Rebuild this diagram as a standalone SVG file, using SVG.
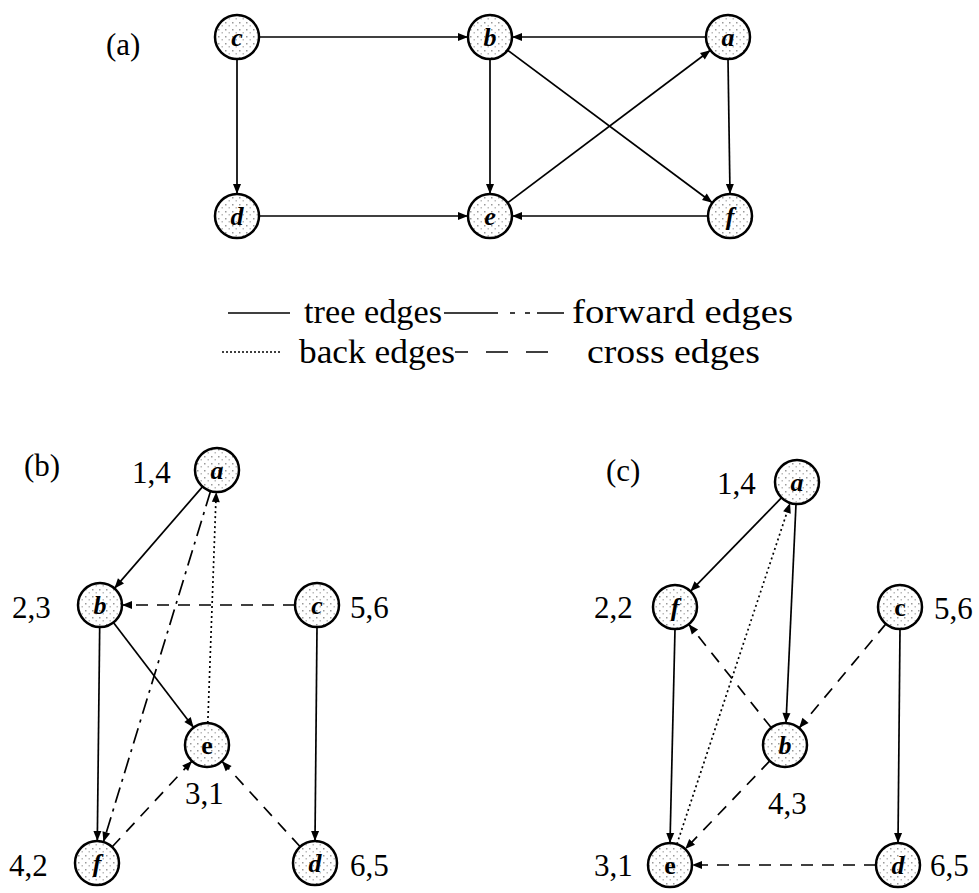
<svg xmlns="http://www.w3.org/2000/svg" width="979" height="893" viewBox="0 0 979 893">
<style>
text{font-family:"Liberation Serif","DejaVu Serif",serif;fill:#000}
.lbl{font-size:31px;dominant-baseline:central}
.nl{font-size:26px;font-style:italic;font-weight:bold;text-anchor:middle;dominant-baseline:central}
.nu{font-size:26px;font-weight:bold;text-anchor:middle;dominant-baseline:central}
.node{fill:url(#stip);stroke:#000;stroke-width:2.5}
.e{fill:none;stroke:#000;stroke-width:1.7}
.tree{marker-end:url(#ah)}
.back{stroke-dasharray:2 3;marker-end:url(#ah)}
.cross{stroke-dasharray:12 9;marker-end:url(#ah)}
.fwd{stroke-dasharray:16 6 3 6;marker-end:url(#ah)}
.leg{font-size:34px}
</style>
<defs>
<pattern id="stip" width="7" height="7" patternUnits="userSpaceOnUse">
<rect width="7" height="7" fill="#fff"/>
<rect x="1" y="1" width="1.5" height="1.5" fill="#999"/>
<rect x="4.5" y="4" width="1.5" height="1.5" fill="#bbb"/>
</pattern>
<marker id="ah" viewBox="0 0 10 10" refX="10" refY="5" markerWidth="11" markerHeight="10" markerUnits="userSpaceOnUse" orient="auto">
<path d="M0,1 L10,5 L0,9 z" fill="#000"/>
</marker>
</defs>

<g id="connectors">
<line class="e tree" x1="259" y1="37" x2="468" y2="37"/>
<line class="e tree" x1="706" y1="37" x2="512" y2="37"/>
<line class="e tree" x1="237" y1="59" x2="237" y2="194"/>
<line class="e tree" x1="259" y1="216" x2="468" y2="216"/>
<line class="e tree" x1="708" y1="216" x2="512" y2="216"/>
<line class="e tree" x1="490" y1="59" x2="490" y2="194"/>
<line class="e tree" x1="728" y1="59" x2="730" y2="194"/>
<line class="e tree" x1="507.6" y1="50.2" x2="712.4" y2="202.8"/>
<line class="e tree" x1="507.6" y1="202.8" x2="710.4" y2="50.2"/>
<line class="e tree" x1="202.6" y1="486.6" x2="114.4" y2="588.4"/>
<line class="e fwd" x1="210.6" y1="491" x2="103.4" y2="842"/>
<line class="e back" x1="207.8" y1="723" x2="216.2" y2="492"/>
<line class="e cross" x1="295" y1="605" x2="122" y2="605"/>
<line class="e tree" x1="99.7" y1="627" x2="97.3" y2="841"/>
<line class="e tree" x1="113.4" y1="622.5" x2="193.6" y2="727.5"/>
<line class="e cross" x1="112" y1="847" x2="192" y2="761"/>
<line class="e cross" x1="300.2" y1="846.8" x2="221.9" y2="761.2"/>
<line class="e tree" x1="317" y1="627" x2="315" y2="841"/>
<line class="e tree" x1="781.6" y1="497.7" x2="690.4" y2="591.3"/>
<line class="e tree" x1="796" y1="504" x2="786" y2="723"/>
<line class="e back" x1="676.9" y1="844.1" x2="790.1" y2="502.9"/>
<line class="e tree" x1="675" y1="629" x2="670" y2="843"/>
<line class="e cross" x1="771.3" y1="727.8" x2="688.7" y2="624.2"/>
<line class="e cross" x1="885.9" y1="623.9" x2="799.1" y2="728.1"/>
<line class="e cross" x1="769.8" y1="760.9" x2="685.2" y2="849.1"/>
<line class="e cross" x1="876" y1="865" x2="692" y2="865"/>
<line class="e tree" x1="900" y1="629" x2="898" y2="843"/>
</g>

<text class="lbl" x="106" y="44">(a)</text>
<text class="lbl" x="24" y="465">(b)</text>
<text class="lbl" x="606" y="470">(c)</text>

<g id="a-c"><circle class="node" cx="237" cy="37" r="22"/><text class="nl" x="237" y="37">c</text></g>
<g id="a-b"><circle class="node" cx="490" cy="37" r="22"/><text class="nl" x="490" y="37">b</text></g>
<g id="a-a"><circle class="node" cx="728" cy="37" r="22"/><text class="nl" x="728" y="37">a</text></g>
<g id="a-d"><circle class="node" cx="237" cy="216" r="22"/><text class="nl" x="237" y="216">d</text></g>
<g id="a-e"><circle class="node" cx="490" cy="216" r="22"/><text class="nl" x="490" y="216">e</text></g>
<g id="a-f"><circle class="node" cx="730" cy="216" r="22"/><text class="nl" x="730" y="216">f</text></g>

<g id="legend">
<line x1="228" y1="313" x2="290" y2="313" stroke="#000" stroke-width="1.6"/>
<text class="leg" x="304" y="323" textLength="138" lengthAdjust="spacingAndGlyphs">tree edges</text>
<path d="M444,313 H498 M510,313 H515 M525,313 H530 M537,313 H564" stroke="#000" stroke-width="1.6" fill="none"/>
<text class="leg" x="572" y="323" textLength="221" lengthAdjust="spacingAndGlyphs">forward edges</text>
<line x1="222" y1="352" x2="282" y2="352" stroke="#000" stroke-width="1.4" stroke-dasharray="2 2"/>
<text class="leg" x="299" y="363" textLength="156" lengthAdjust="spacingAndGlyphs">back edges</text>
<path d="M455,352 H468 M486,352 H508 M526,352 H548" stroke="#000" stroke-width="1.6" fill="none"/>
<text class="leg" x="587" y="363" textLength="173" lengthAdjust="spacingAndGlyphs">cross edges</text>
</g>

<g id="b-a"><circle class="node" cx="217" cy="470" r="22"/><text class="nl" x="217" y="470">a</text><text class="lbl" x="132" y="472">1,4</text></g>
<g id="b-b"><circle class="node" cx="100" cy="605" r="22"/><text class="nl" x="100" y="605">b</text><text class="lbl" x="12" y="607">2,3</text></g>
<g id="b-c"><circle class="node" cx="317" cy="605" r="22"/><text class="nl" x="317" y="605">c</text><text class="lbl" x="350" y="607">5,6</text></g>
<g id="b-e"><circle class="node" cx="207" cy="745" r="22"/><text class="nu" x="207" y="745">e</text><text class="lbl" x="185" y="793">3,1</text></g>
<g id="b-f"><circle class="node" cx="97" cy="863" r="22"/><text class="nl" x="97" y="863">f</text><text class="lbl" x="9" y="865">4,2</text></g>
<g id="b-d"><circle class="node" cx="315" cy="863" r="22"/><text class="nl" x="315" y="863">d</text><text class="lbl" x="350" y="865">6,5</text></g>

<g id="c-a"><circle class="node" cx="797" cy="482" r="22"/><text class="nl" x="797" y="482">a</text><text class="lbl" x="717" y="483">1,4</text></g>
<g id="c-f"><circle class="node" cx="675" cy="607" r="22"/><text class="nl" x="675" y="607">f</text><text class="lbl" x="594" y="607">2,2</text></g>
<g id="c-c"><circle class="node" cx="900" cy="607" r="22"/><text class="nu" x="900" y="607">c</text><text class="lbl" x="934" y="608">5,6</text></g>
<g id="c-b"><circle class="node" cx="785" cy="745" r="22"/><text class="nl" x="785" y="745">b</text><text class="lbl" x="768" y="803">4,3</text></g>
<g id="c-e"><circle class="node" cx="670" cy="865" r="22"/><text class="nu" x="670" y="865">e</text><text class="lbl" x="594" y="865">3,1</text></g>
<g id="c-d"><circle class="node" cx="898" cy="865" r="22"/><text class="nl" x="898" y="865">d</text><text class="lbl" x="930" y="865">6,5</text></g>
</svg>
